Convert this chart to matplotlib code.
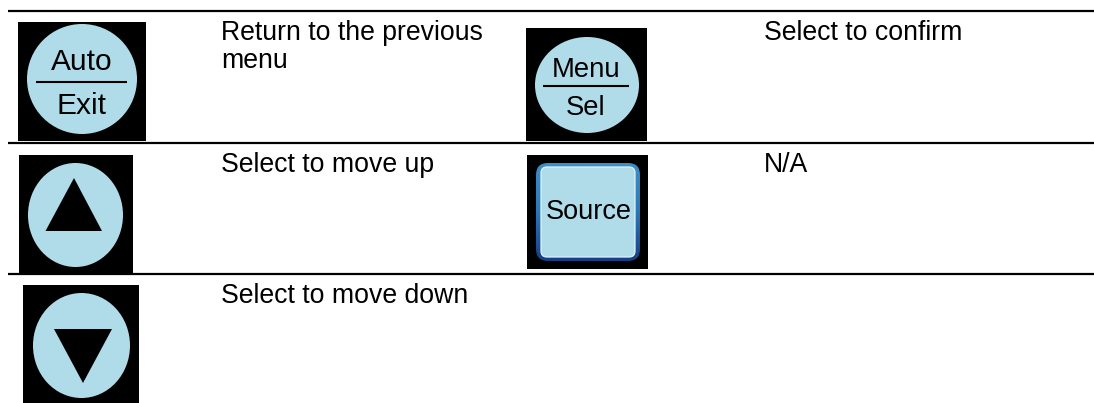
import matplotlib
matplotlib.use("Agg")
import matplotlib.pyplot as plt
import numpy as np
from matplotlib.colors import LinearSegmentedColormap
from matplotlib.patches import Rectangle, Ellipse, Polygon, FancyBboxPatch

plt.rcParams['font.family'] = ['Liberation Sans', 'DejaVu Sans']

descriptions_left = ["Return to the previous\nmenu", "Select to move up", "Select to move down"]
descriptions_right = ["Select to confirm", "N/A"]
round_labels = [("Auto", "Exit"), ("Menu", "Sel")]
square_label = "Source"

W, H = 1094, 403
BLUE = "#B0DCEA"
FS = 19.2
LINE_STEP = 29

fig = plt.figure(figsize=(W / 100, H / 100), dpi=100)
ax = fig.add_axes([0, 0, 1, 1])
ax.set_xlim(0, W)
ax.set_ylim(H, 0)
ax.axis("off")


def black(x0, y0, x1, y1):
    ax.add_patch(Rectangle((x0, y0), x1 - x0, y1 - y0, fc="black", ec="none", zorder=1))


def circle(x0, y0, x1, y1):
    ax.add_patch(Ellipse(((x0 + x1) / 2, (y0 + y1) / 2), x1 - x0, y1 - y0,
                         fc=BLUE, ec="none", zorder=2))


def split_button(box, circ, rule, labels, label_y, fs):
    black(*box)
    circle(*circ)
    ax.plot(rule[:2], [rule[2], rule[2]], color="black", lw=1.5, zorder=3,
            solid_capstyle="butt")
    cx = (rule[0] + rule[1]) / 2
    for s, y in zip(labels, label_y):
        ax.text(cx, y, s, ha="center", va="center_baseline", fontsize=fs, color="black", zorder=3)


def description(x, baseline, s):
    for i, line in enumerate(s.split("\n")):
        ax.text(x, baseline + i * LINE_STEP, line, ha="left", va="baseline",
                fontsize=FS, color="black")


# rules
for y in (10.5, 142.5, 273.5):
    ax.plot([8, W], [y, y], color="black", lw=1.6, solid_capstyle="butt", zorder=5)

# round split buttons
split_button((18, 22, 146, 141), (27, 24, 137, 134), (36, 127, 82),
             round_labels[0], (59, 103), 21.5)
split_button((526, 28, 647, 141), (535, 37, 639, 133), (543, 629, 86),
             round_labels[1], (67, 105), 19.8)

# arrow buttons
black(19, 155, 133, 273)
circle(28, 163, 123, 267)
ax.add_patch(Polygon([(74, 178), (45.5, 231), (102, 231)], fc="black", ec="none", zorder=3))

black(23, 285, 139, 403)
circle(33, 293, 130, 398)
ax.add_patch(Polygon([(54, 329), (112, 329), (83, 383)], fc="black", ec="none", zorder=3))

# source button: bevel runs from mid blue at the top to navy at the bottom
black(527, 155, 648, 269)
bevel = FancyBboxPatch((546, 173), 84, 78, boxstyle="round,pad=10,rounding_size=12",
                       fc="none", ec="none", zorder=2)
ax.add_patch(bevel)
cmap = LinearSegmentedColormap.from_list("bevel", ["#3F8EC6", "#2C78B4", "#163F86"])
grad = ax.imshow(np.linspace(0, 1, 64).reshape(-1, 1), cmap=cmap, aspect="auto",
                 extent=(536, 640, 261, 163), zorder=2)
grad.set_clip_path(bevel)
ax.set_xlim(0, W)
ax.set_ylim(H, 0)
ax.add_patch(FancyBboxPatch((546, 172), 84, 80, boxstyle="round,pad=5,rounding_size=6",
                            fc=BLUE, ec="#DDF3FA", lw=0.9, zorder=3))
ax.text(588.5, 209, square_label, ha="center", va="center_baseline", fontsize=19.5,
        color="black", zorder=4)

# descriptions
for s, y in zip(descriptions_left, (39.5, 172, 303)):
    description(221, y, s)
for s, y in zip(descriptions_right, (39.5, 172)):
    description(764, y, s)

fig.savefig("out.png", dpi=100, facecolor="white")
